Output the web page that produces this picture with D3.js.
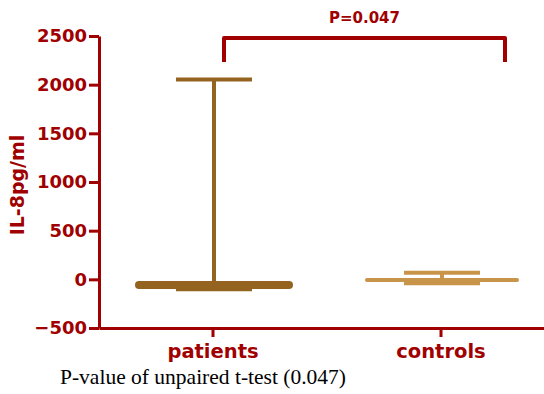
<!DOCTYPE html>
<html>
  <head>
    <meta charset="utf-8">
    <script src="https://d3js.org/d3.v7.min.js"></script>
    <style>
      body { margin: 0; background: #fff; }
      svg { display: block; }
      .axis text { font-family: "DejaVu Sans", sans-serif; font-weight: bold; fill: #a00000; }
      .axis path, .axis line { stroke: #a00000; stroke-width: 3px; }
    </style>
  </head>
  <body>
    <svg id="chart" width="544" height="394"></svg>
    <script>
      // data
      const groups = ["patients", "controls"]
      const means = [-58, -8]
      const lows = [-103, -40]
      const highs = [2053, 67]
      const yTicks = [-500, 0, 500, 1000, 1500, 2000, 2500]
      const pText = "P=0.047"
      const footnote = "P-value of unpaired t-test (0.047)"

      const red = "#a00000"
      const colors = ["#946320", "#c8944a"]

      let svg = d3.select("#chart")

      let y = d3.scaleLinear().domain([-500, 2500]).range([328, 36])
      let x = d3.scaleBand().domain(groups).range([99, 555])

      // y axis
      let gy = svg.append("g").attr("class", "axis")
        .attr("transform", "translate(99,0)")
        .call(d3.axisLeft(y).tickValues(yTicks).tickFormat(d3.format("d"))
          .tickSize(10).tickPadding(2).tickSizeOuter(0))
      gy.selectAll("text").style("font-size", "18px")

      // x axis
      let gx = svg.append("g").attr("class", "axis")
        .attr("transform", "translate(0,328)")
        .call(d3.axisBottom(x).tickSize(9).tickPadding(7).tickSizeOuter(0))
      gx.selectAll("text").style("font-size", "19.5px")

      // y title
      svg.append("text")
        .attr("transform", "translate(24,185) rotate(-90)")
        .attr("text-anchor", "middle")
        .style("font-family", "DejaVu Sans, sans-serif")
        .style("font-weight", "bold")
        .style("font-size", "19px")
        .attr("fill", red)
        .text("IL-8pg/ml")

      // error bars
      let g = svg.append("g")
      groups.forEach((d, i) => {
        let cx = x(d) + x.bandwidth() / 2 + 1
        let c = colors[i]
        g.append("line")
          .attr("x1", cx).attr("x2", cx)
          .attr("y1", y(highs[i])).attr("y2", y(lows[i]))
          .attr("stroke", c).attr("stroke-width", 4)
        g.append("line")
          .attr("x1", cx - 38).attr("x2", cx + 38)
          .attr("y1", y(highs[i])).attr("y2", y(highs[i]))
          .attr("stroke", c).attr("stroke-width", 4)
        g.append("line")
          .attr("x1", cx - 38).attr("x2", cx + 38)
          .attr("y1", y(lows[i])).attr("y2", y(lows[i]))
          .attr("stroke", c).attr("stroke-width", 4)
        g.append("line")
          .attr("x1", cx - 75).attr("x2", cx + 75)
          .attr("y1", y(means[i])).attr("y2", y(means[i]))
          .attr("stroke", c).attr("stroke-width", i == 0 ? 8 : 4)
          .attr("stroke-linecap", "round")
      })

      // significance bracket
      let bx1 = x(groups[0]) + x.bandwidth() / 2 + 11
      let bx2 = x(groups[1]) + x.bandwidth() / 2 + 64
      svg.append("path")
        .attr("d", `M${bx1},62 V38 H${bx2} V62`)
        .attr("fill", "none")
        .attr("stroke", red)
        .attr("stroke-width", 4)
        .attr("stroke-linejoin", "round")
      svg.append("text")
        .attr("x", (bx1 + bx2) / 2).attr("y", 23)
        .attr("text-anchor", "middle")
        .style("font-family", "DejaVu Sans, sans-serif")
        .style("font-weight", "bold")
        .style("font-size", "15px")
        .attr("fill", red)
        .text(pText)

      svg.append("text")
        .attr("x", 60).attr("y", 384)
        .style("font-family", "Liberation Serif, 'Times New Roman', serif")
        .style("font-size", "21.5px")
        .attr("fill", "#000")
        .text(footnote)
    </script>
  </body>
</html>
